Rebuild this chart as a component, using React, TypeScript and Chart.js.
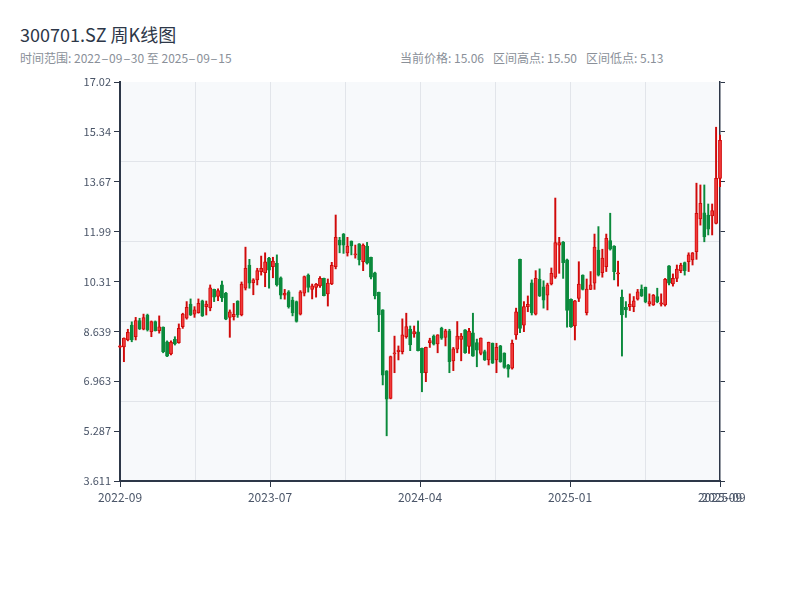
import React, { useEffect, useRef } from "react";
import { Chart, registerables } from "chart.js";

Chart.register(...registerables);

// Weekly OHLC values (index 0 = first week shown)
const opens = [
  8.11, 8.12, 8.35, 8.85, 8.46, 9.0, 8.71, 9.19, 8.63, 8.97,
  8.66, 8.78, 8.29, 7.88, 8.37, 8.26, 8.8, 9.08, 9.56, 9.22,
  9.27, 9.67, 9.47, 9.43, 10.05, 9.81, 10.2, 9.93, 9.11, 9.13,
  9.66, 9.19, 10.09, 10.87, 10.28, 10.37, 10.65, 10.61, 11.1, 10.81,
  10.93, 10.44, 9.86, 9.97, 9.69, 9.64, 9.22, 9.92, 10.53, 10.05,
  10.12, 10.17, 10.42, 9.9, 10.23, 10.81, 11.71, 11.91, 11.28, 11.67,
  11.21, 11.58, 10.98, 11.51, 11.13, 10.61, 9.95, 9.36, 7.31, 6.39,
  7.88, 7.96, 7.96, 8.46, 8.72, 8.55, 8.62, 8.07, 7.25, 8.26,
  8.48, 8.22, 8.74, 8.44, 8.66, 7.65, 8.04, 8.37, 8.69, 8.13,
  8.59, 8.26, 7.9, 7.96, 7.68, 8.24, 7.68, 8.15, 7.91, 7.51,
  7.4, 8.52, 11.06, 8.85, 9.47, 10.27, 9.22, 10.39, 10.14, 9.86,
  10.23, 10.46, 11.54, 11.64, 11.04, 9.72, 8.82, 9.75, 10.53, 9.27,
  10.05, 10.26, 11.37, 10.61, 10.81, 11.69, 11.51, 10.57, 9.79, 9.45,
  9.47, 9.47, 9.72, 10.05, 10.12, 9.56, 9.53, 9.81, 9.55, 9.53,
  10.84, 10.23, 10.42, 10.68, 10.95, 10.98, 11.04, 11.32, 12.42, 12.62,
  12.55, 12.52, 12.27, 13.78,
];

const highs = [
  8.18, 8.42, 8.71, 8.96, 9.11, 9.08, 9.22, 9.22, 8.99, 8.99,
  9.16, 8.79, 8.32, 8.32, 8.46, 8.89, 9.25, 9.64, 9.73, 9.47,
  9.73, 9.69, 9.66, 10.2, 10.06, 10.07, 10.33, 9.95, 9.36, 9.58,
  9.67, 10.3, 11.47, 11.06, 10.41, 10.76, 11.17, 11.28, 11.13, 11.13,
  11.21, 10.47, 10.05, 10.01, 9.79, 9.66, 10.01, 10.5, 10.57, 10.23,
  10.25, 10.48, 10.43, 10.4, 10.96, 12.55, 11.8, 11.93, 11.8, 11.68,
  11.54, 11.59, 11.58, 11.63, 11.14, 10.63, 9.96, 9.37, 7.32, 7.81,
  8.48, 8.15, 9.06, 9.25, 8.82, 8.82, 8.99, 8.08, 8.11, 8.41,
  8.52, 8.53, 8.78, 8.71, 8.71, 8.1, 8.97, 8.57, 8.7, 8.74,
  9.25, 8.38, 8.42, 8.01, 8.28, 8.25, 8.24, 8.17, 7.92, 7.53,
  8.35, 9.42, 11.07, 9.64, 9.83, 10.37, 10.68, 10.74, 10.34, 10.26,
  10.77, 13.12, 11.8, 11.66, 11.07, 9.73, 9.68, 10.98, 10.54, 10.4,
  10.65, 11.91, 12.16, 11.4, 11.91, 12.61, 11.52, 11.0, 10.03, 9.64,
  9.9, 9.81, 10.05, 10.2, 10.13, 9.9, 9.88, 10.09, 9.9, 10.42,
  10.85, 10.57, 10.87, 10.93, 10.97, 11.28, 11.29, 13.62, 13.56, 13.56,
  12.92, 12.92, 15.5, 15.24,
];

const lows = [
  8.08, 7.62, 8.32, 8.29, 8.35, 8.7, 8.69, 8.65, 8.46, 8.65,
  8.58, 7.92, 7.79, 7.85, 8.18, 8.24, 8.74, 9.05, 9.17, 9.11,
  9.25, 9.14, 9.19, 9.33, 9.64, 9.67, 9.64, 9.03, 8.44, 9.02,
  9.11, 9.16, 10.03, 10.09, 9.87, 10.2, 10.53, 10.14, 10.09, 10.44,
  10.16, 9.73, 9.72, 9.42, 9.16, 8.95, 9.19, 9.83, 9.96, 9.73,
  9.79, 10.12, 9.83, 9.49, 10.21, 10.74, 11.28, 11.26, 11.17, 11.21,
  11.1, 10.87, 10.68, 10.9, 10.4, 9.73, 8.63, 6.84, 5.13, 6.37,
  7.25, 7.68, 7.88, 8.41, 7.99, 8.44, 7.98, 6.61, 6.95, 8.1,
  8.18, 7.92, 8.37, 8.15, 7.25, 7.32, 7.92, 7.65, 7.9, 7.9,
  7.8, 7.45, 7.85, 7.66, 7.51, 7.56, 7.25, 7.6, 7.4, 7.1,
  7.37, 8.37, 8.6, 8.63, 9.3, 9.19, 9.19, 9.81, 9.42, 9.36,
  10.2, 10.42, 10.59, 10.42, 8.78, 8.77, 8.35, 9.64, 10.03, 9.19,
  10.04, 10.05, 10.5, 10.46, 10.65, 11.37, 10.37, 10.16, 7.81, 9.11,
  9.34, 9.3, 9.69, 9.81, 9.6, 9.49, 9.51, 9.6, 9.49, 9.49,
  10.2, 10.16, 10.31, 10.61, 10.53, 10.65, 10.87, 11.06, 12.21, 11.65,
  11.88, 11.88, 12.25, 13.5,
];

const closes = [
  8.15, 8.41, 8.61, 8.35, 9.0, 8.72, 9.1, 8.69, 8.97, 8.66,
  8.79, 7.96, 7.81, 8.28, 8.22, 8.74, 9.22, 9.45, 9.19, 9.36,
  9.58, 9.16, 9.56, 10.1, 9.79, 10.01, 9.76, 9.05, 9.3, 9.21,
  9.19, 10.23, 10.76, 10.26, 10.37, 10.68, 10.76, 10.98, 10.7, 11.0,
  10.2, 9.86, 9.92, 9.47, 9.26, 8.97, 9.97, 10.48, 10.12, 10.17,
  10.23, 10.42, 9.84, 10.26, 10.86, 11.8, 11.54, 11.54, 11.51, 11.51,
  11.24, 11.04, 11.54, 10.93, 10.46, 9.83, 9.19, 7.17, 6.36, 7.79,
  7.92, 8.01, 8.52, 8.8, 8.18, 8.63, 7.99, 7.24, 8.1, 8.33,
  8.21, 8.52, 8.41, 8.66, 7.62, 8.05, 8.48, 8.48, 7.92, 8.65,
  7.81, 8.01, 8.41, 7.68, 8.27, 7.57, 8.1, 7.62, 7.43, 7.37,
  8.24, 9.3, 8.74, 9.47, 9.55, 9.26, 10.42, 9.83, 9.69, 10.2,
  10.59, 11.62, 11.62, 10.95, 9.34, 8.8, 9.67, 10.23, 10.05, 10.06,
  10.2, 11.47, 10.53, 11.1, 11.77, 11.4, 10.65, 10.61, 9.19, 9.36,
  9.56, 9.67, 9.97, 9.83, 9.64, 9.64, 9.86, 9.64, 9.6, 10.39,
  10.26, 10.42, 10.73, 10.87, 10.68, 11.21, 11.28, 12.61, 12.94, 11.81,
  12.07, 12.7, 13.78, 15.06,
];

const xTickLabels = ["2022-09", "2023-07", "2024-04", "2025-01", "2025-09", "2025-09"];
const yTickLabels = ["3.611", "5.287", "6.963", "8.639", "10.31", "11.99", "13.67", "15.34", "17.02"];
const Y_MIN = 3.611;
const Y_MAX = 17.02;

const titleText = "300701.SZ 周K线图";
const rangeText = "时间范围: 2022-09-30 至 2025-09-15";
const statTexts = ["当前价格: 15.06", "区间高点: 15.50", "区间低点: 5.13"];

const UP_FILL = "#f03a3a";
const UP_LINE = "#d00a0a";
const DOWN = "#0b8a3c";
const AXIS = "#2d3748";
const GRID = "#e2e5ea";
const LABEL = "#4a5568";
const NONE = "rgba(0,0,0,0)";
const FONT = '"Noto Sans CJK SC", "Noto Sans", sans-serif';

const plotBg = {
  id: "plotBg",
  beforeDraw(chart: any) {
    const { ctx, chartArea } = chart;
    if (!chartArea) return;
    ctx.save();
    ctx.fillStyle = "#f7f9fb";
    ctx.fillRect(chartArea.left, chartArea.top, chartArea.right - chartArea.left, chartArea.bottom - chartArea.top);
    ctx.restore();
  },
};

// render text with wider dash glyphs (matches the reference glyph widths)
function WideDash({ text }: { text: string }) {
  const parts = text.split("-");
  return (
    <>
      {parts.map((p, i) => (
        <React.Fragment key={i}>
          {p}
          {i < parts.length - 1 ? (
            <span style={{ display: "inline-block", width: 8.4, textAlign: "center" }}>
              <span style={{ display: "inline-block", transform: "scaleX(1.9)" }}>-</span>
            </span>
          ) : null}
        </React.Fragment>
      ))}
    </>
  );
}

export default function App() {
  const canvasRef = useRef<HTMLCanvasElement | null>(null);

  useEffect(() => {
    if (!canvasRef.current) return;
    const last = opens.length - 1;
    const isUp = opens.map((o, i) => closes[i] >= o);
    const yStep = (Y_MAX - Y_MIN) / (yTickLabels.length - 1);

    const chart = new Chart(canvasRef.current, {
      type: "bar",
      data: {
        datasets: [
          {
            label: "body",
            data: opens.map((o, i) => ({ x: i, y: [o, closes[i]] })) as any,
            backgroundColor: isUp.map((u) => (u ? UP_FILL : DOWN)),
            borderColor: isUp.map((u) => (u ? UP_LINE : DOWN)),
            borderWidth: 1,
            borderSkipped: false,
            barThickness: 3.2,
            minBarLength: 1,
            grouped: false,
            clip: false as any,
            order: 0,
            xAxisID: "x",
            yAxisID: "y",
          } as any,
          {
            label: "wick",
            data: lows.map((l, i) => ({ x: i, y: [l, highs[i]] })) as any,
            backgroundColor: isUp.map((u) => (u ? UP_LINE : DOWN)),
            borderWidth: 0,
            barThickness: 1.3,
            minBarLength: 1,
            grouped: false,
            clip: false as any,
            order: 1,
            xAxisID: "x",
            yAxisID: "y",
          } as any,
        ],
      },
      options: {
        animation: false,
        responsive: false,
        maintainAspectRatio: false,
        layout: { padding: { top: 82, left: 0, right: 0, bottom: 0 } },
        plugins: { legend: { display: false }, tooltip: { enabled: false }, title: { display: false } },
        scales: {
          x: {
            type: "linear",
            position: "bottom",
            offset: false,
            min: 0,
            max: last,
            afterBuildTicks: (s: any) => {
              const t: any[] = [];
              for (let k = 0; k <= 8; k++) t.push({ value: (k * last) / 8 });
              t.push({ value: last + 0.9 });
              s.ticks = t;
            },
            afterFit: (s: any) => {
              s.height = 119;
            },
            ticks: {
              autoSkip: false,
              maxRotation: 0,
              minRotation: 0,
              padding: 3,
              color: LABEL,
              font: { family: FONT, size: 12 },
              callback: (_v: any, i: number) => (i === 9 ? xTickLabels[5] : i % 2 === 0 ? xTickLabels[i / 2] : ""),
            },
            grid: {
              offset: false,
              color: (c: any) => (c.index >= 1 && c.index <= 7 ? GRID : NONE),
              tickColor: (c: any) => (c.index % 2 === 0 && c.index <= 8 ? AXIS : NONE),
              tickLength: 6,
              lineWidth: 1,
            },
            border: { color: AXIS, width: 2 },
          },
          y: {
            type: "linear",
            position: "left",
            min: Y_MIN,
            max: Y_MAX,
            afterBuildTicks: (s: any) => {
              s.ticks = yTickLabels.map((_, k) => ({ value: Y_MIN + k * yStep }));
            },
            afterFit: (s: any) => {
              s.width = 120;
            },
            ticks: {
              autoSkip: false,
              padding: 3,
              color: LABEL,
              font: { family: FONT, size: 11 },
              callback: (_v: any, i: number) => yTickLabels[i],
            },
            grid: { drawOnChartArea: false, tickLength: 6, tickColor: AXIS, lineWidth: 1 },
            border: { color: AXIS, width: 2 },
          },
          yGrid: {
            type: "linear",
            position: "left",
            min: Y_MIN,
            max: Y_MAX,
            afterBuildTicks: (s: any) => {
              const t: any[] = [];
              for (let k = 0; k <= 5; k++) t.push({ value: Y_MIN + (k * (Y_MAX - Y_MIN)) / 5 });
              s.ticks = t;
            },
            afterFit: (s: any) => {
              s.width = 0;
            },
            ticks: { display: false },
            grid: {
              drawTicks: false,
              color: (c: any) => (c.index >= 1 && c.index <= 4 ? GRID : NONE),
              lineWidth: 1,
            },
            border: { display: false },
          },
          yRight: {
            type: "linear",
            position: "right",
            min: Y_MIN,
            max: Y_MAX,
            afterBuildTicks: (s: any) => {
              s.ticks = yTickLabels.map((_, k) => ({ value: Y_MIN + k * yStep }));
            },
            afterFit: (s: any) => {
              s.width = 80;
            },
            ticks: { display: false },
            grid: { drawOnChartArea: false, tickLength: 5, tickColor: AXIS, lineWidth: 1 },
            border: { color: AXIS, width: 1.5 },
          },
        },
      } as any,
      plugins: [plotBg],
    });

    return () => chart.destroy();
  }, []);

  return (
    <div style={{ position: "absolute", left: 0, top: 0, width: 800, height: 600, background: "#fff", fontFamily: FONT }}>
      <div style={{ position: "absolute", left: 20, top: 24, fontSize: 18, lineHeight: "20px", color: "#2d3748", whiteSpace: "nowrap" }}>
        {titleText}
      </div>
      <div style={{ position: "absolute", left: 20, top: 51, fontSize: 12, lineHeight: "14px", color: "#8a9099", whiteSpace: "nowrap" }}>
        <WideDash text={rangeText} />
      </div>
      <div style={{ position: "absolute", left: 400, top: 51, fontSize: 12, lineHeight: "14px", color: "#8a9099", whiteSpace: "nowrap" }}>
        {statTexts.map((t, i) => (
          <span key={i} style={{ marginLeft: i === 0 ? 0 : 9 }}>
            {t}
          </span>
        ))}
      </div>
      <canvas ref={canvasRef} width={800} height={600} style={{ position: "absolute", left: 0, top: 0 }} />
    </div>
  );
}
